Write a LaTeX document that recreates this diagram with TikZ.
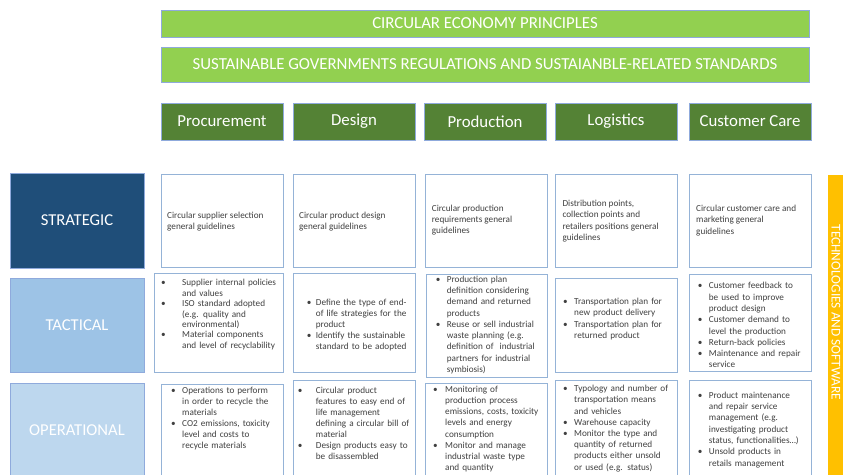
\documentclass[tikz,border=0pt]{standalone}
\usepackage{fontspec}
\setmainfont{Carlito}
\definecolor{lgreen}{HTML}{92D050}
\definecolor{dgreen}{HTML}{548235}
\definecolor{navy}{HTML}{1F4E79}
\definecolor{tact}{HTML}{9DC3E6}
\definecolor{oper}{HTML}{BDD7EE}
\definecolor{orng}{HTML}{FFC000}
\definecolor{bord}{HTML}{8FAADC}
\definecolor{cbord}{HTML}{95B3D7}
\definecolor{txtc}{HTML}{404040}
\newcommand{\itm}[2]{\noindent\hangindent=#1pt\hangafter=1\makebox[#1pt][l]{•}#2\par}
\newcommand{\mkbox}[6]{\node[#6,anchor=north west,minimum width={(#4-#2)*1pt},minimum height={(#5-#3)*1pt}] (#1) at (#2,#3) {};}
\begin{document}
\begin{tikzpicture}[x=1pt,y=-1pt,
  boxbase/.style={draw=bord,line width=0.8pt,inner sep=0pt,outer sep=0pt},
  barbox/.style={boxbase,fill=lgreen},
  headbox/.style={boxbase,fill=dgreen},
  cbox/.style={boxbase,draw=cbord,fill=white},
  strbox/.style={boxbase,fill=navy},
  tacbox/.style={boxbase,fill=tact},
  opbox/.style={boxbase,fill=oper},
  orbox/.style={boxbase,draw=orng,fill=orng},
  bartext/.style={text=white,font=\fontsize{16.8}{19}\selectfont,inner sep=0pt},
  headtext/.style={text=white,font=\fontsize{16.8}{19}\selectfont,inner sep=0pt},
  labtext/.style={text=white,font=\fontsize{16.6}{19}\selectfont,inner sep=0pt},
  techtext/.style={text=white,font=\fontsize{13.4}{16}\selectfont,inner sep=0pt},
  ctext/.style={text=txtc,font=\fontsize{9.2}{11.3}\selectfont,align=left,anchor=west,inner sep=0pt},
  ltext/.style={text=txtc,font=\fontsize{9.2}{#1}\selectfont,align=left,text width=135pt,anchor=west,inner sep=0pt},
  ltext/.default=11.2
]
\useasboundingbox (0,0) rectangle (843,474);
\fill[white] (0,0) rectangle (843,474);

% top bars
\mkbox{bar1}{161}{10}{809}{37}{barbox}
\node[bartext] (bar1t) at (bar1.center) {CIRCULAR ECONOMY PRINCIPLES};
\mkbox{bar2}{161}{47}{809}{82}{barbox}
\node[bartext] (bar2t) at (bar2.center) {SUSTAINABLE GOVERNMENTS REGULATIONS AND SUSTAIANBLE-RELATED STANDARDS};

% headers
\mkbox{h1}{161}{103}{283}{140}{headbox}
\node[headtext] (h1t) at (h1.center) {Procurement};
\mkbox{h2}{293}{103}{415}{140}{headbox}
\node[headtext] (h2t) at (h2.center) {Design};
\mkbox{h3}{424}{103}{546}{140}{headbox}
\node[headtext] (h3t) at (h3.center) {Production};
\mkbox{h4}{555}{103}{677}{140}{headbox}
\node[headtext] (h4t) at (h4.center) {Logistics};
\mkbox{h5}{689}{103}{811}{140}{headbox}
\node[headtext] (h5t) at (h5.center) {Customer Care};

% left labels
\mkbox{lst}{10}{173}{144}{268}{strbox}
\node[labtext] (lstt) at (lst.center) {STRATEGIC};
\mkbox{lta}{10}{278}{144}{372}{tacbox}
\node[labtext] (ltat) at (lta.center) {TACTICAL};
\mkbox{lop}{10}{383}{144}{490}{opbox}
\node[labtext] (lopt) at (77,430) {OPERATIONAL};

% orange bar
\mkbox{tech}{828}{175}{870}{490}{orbox}
\node[techtext,rotate=-90] (techt) at (836,312.5) {TECHNOLOGIES AND SOFTWARE};

% strategic row
\mkbox{s1}{161}{174}{283}{267}{cbox}
\mkbox{s2}{293}{174}{415}{267}{cbox}
\mkbox{s3}{425}{174}{547}{267}{cbox}
\mkbox{s4}{555}{174}{677}{267}{cbox}
\mkbox{s5}{689}{174}{811}{267}{cbox}
\node[ctext] (s1t) at (167,221.7) {Circular supplier selection\\general guidelines};
\node[ctext] (s2t) at (299,221.7) {Circular product design\\general guidelines};
\node[ctext] (s3t) at (431.7,220) {Circular production\\requirements general\\guidelines};
\node[ctext] (s4t) at (562.3,221) {Distribution points,\\collection points and\\retailers positions general\\guidelines};
\node[ctext] (s5t) at (696,220.5) {Circular customer care and\\marketing general\\guidelines};

% tactical row
\mkbox{t1}{154}{273}{283}{372}{cbox}
\mkbox{t2}{293}{273}{415}{372}{cbox}
\mkbox{t3}{426}{274}{547}{377}{cbox}
\mkbox{t4}{555}{278}{677}{372}{cbox}
\mkbox{t5}{689}{274}{811}{371}{cbox}
\node[ltext=10.4] (t1t) at (161,314.7) {\itm{21}{Supplier internal policies\newline and values}\itm{21}{ISO standard adopted\newline (e.g. quality and\newline environmental)}\itm{21}{Material components\newline and level of recyclability}};
\node[ltext=11] (t2t) at (306.7,325.5) {\itm{9}{Define the type of end-\newline of life strategies for the\newline product}\itm{9}{Identify the sustainable\newline standard to be adopted}};
\node[ltext=11.25] (t3t) at (435.7,325) {\itm{11}{Production plan\newline definition considering\newline demand and returned\newline products}\itm{11}{Reuse or sell industrial\newline waste planning (e.g.\newline definition of~ industrial\newline partners for industrial\newline symbiosis)}};
\node[ltext=11.2] (t4t) at (563,319) {\itm{11}{Transportation plan for\newline new product delivery}\itm{11}{Transportation plan for\newline returned product}};
\node[ltext=11.3] (t5t) at (697.7,325.2) {\itm{11}{Customer feedback to\newline be used to improve\newline product design}\itm{11}{Customer demand to\newline level the production}\itm{11}{Return-back policies}\itm{11}{Maintenance and repair\newline service}};

% operational row
\mkbox{o1}{161}{384}{283}{490}{cbox}
\mkbox{o2}{293}{380}{415}{490}{cbox}
\mkbox{o3}{425}{383}{547}{490}{cbox}
\mkbox{o4}{555}{380}{677}{490}{cbox}
\mkbox{o5}{689}{380}{811}{490}{cbox}
\node[ltext=11] (o1t) at (171,418.5) {\itm{11}{Operations to perform\newline in order to recycle the\newline materials}\itm{11}{CO2 emissions, toxicity\newline level and costs to\newline recycle materials}};
\node[ltext=11] (o2t) at (297.7,423.8) {\itm{18}{Circular product\newline features to easy end of\newline life management\newline defining a circular bill of\newline material}\itm{18}{Design products easy to\newline be disassembled}};
\node[ltext=11.2] (o3t) at (433,429) {\itm{12}{Monitoring of\newline production process\newline emissions, costs, toxicity\newline levels and energy\newline consumption}\itm{12}{Monitor and manage\newline industrial waste type\newline and quantity}};
\node[ltext=11.2] (o4t) at (563,428.5) {\itm{11}{Typology and number of\newline transportation means\newline and vehicles}\itm{11}{Warehouse capacity}\itm{11}{Monitor the type and\newline quantity of returned\newline products either unsold\newline or used (e.g. status)}};
\node[ltext=11.3] (o5t) at (697.7,429.8) {\itm{11}{Product maintenance\newline and repair service\newline management (e.g.\newline investigating product\newline status, functionalities…)}\itm{11}{Unsold products in\newline retails management}};
\end{tikzpicture}
\end{document}
